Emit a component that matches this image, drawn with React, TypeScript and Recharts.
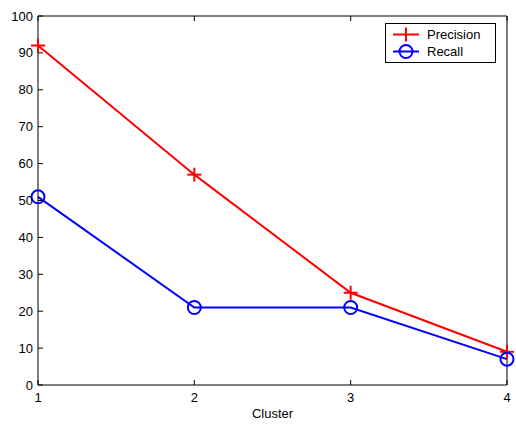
import React from 'react';
import { LineChart, Line, XAxis, YAxis, Legend } from 'recharts';

const clusters = [1, 2, 3, 4];
const precision = [92, 57, 25, 9];
const recall = [51, 21, 21, 7];
const yTicks = [0, 10, 20, 30, 40, 50, 60, 70, 80, 90, 100];

const RED = '#ff0000';
const BLUE = '#0000ff';
const FONT = '"Liberation Sans", Arial, sans-serif';

const data = clusters.map((c, i) => ({ cluster: c, precision: precision[i], recall: recall[i] }));

// MATLAB-style inward ticks
const BottomTick = (props: any) => {
    const { x, y, payload } = props;
    return (
        <g>
            <line x1={x} y1={y} x2={x} y2={y - 5} stroke="#000" />
            <text x={x} y={y + 17} textAnchor="middle" fontSize={13} fontFamily={FONT} fill="#000">
                {payload.value}
            </text>
        </g>
    );
};

const TopTick = (props: any) => {
    const { x, y } = props;
    return <line x1={x} y1={y} x2={x} y2={y + 5} stroke="#000" />;
};

const LeftTick = (props: any) => {
    const { x, y, payload } = props;
    return (
        <g>
            <line x1={x} y1={y} x2={x + 5} y2={y} stroke="#000" />
            <text x={x - 5} y={y + 4.5} textAnchor="end" fontSize={13} fontFamily={FONT} fill="#000">
                {payload.value}
            </text>
        </g>
    );
};

const RightTick = (props: any) => {
    const { x, y } = props;
    return <line x1={x} y1={y} x2={x - 5} y2={y} stroke="#000" />;
};

const PlusDot = (props: any) => {
    const { cx, cy, index } = props;
    return (
        <g key={`p-${index}`}>
            <line x1={cx - 7} y1={cy} x2={cx + 7} y2={cy} stroke={RED} strokeWidth={2} />
            <line x1={cx} y1={cy - 7} x2={cx} y2={cy + 7} stroke={RED} strokeWidth={2} />
        </g>
    );
};

const CircleDot = (props: any) => {
    const { cx, cy, index } = props;
    return <circle key={`r-${index}`} cx={cx} cy={cy} r={6.5} fill="none" stroke={BLUE} strokeWidth={2} />;
};

const LegendBox = () => (
    <svg width={111} height={40} style={{ display: 'block' }}>
        <rect x={0.5} y={0.5} width={110} height={39} fill="#fff" stroke="#000" />
        <line x1={8} y1={11.5} x2={34} y2={11.5} stroke={RED} strokeWidth={2} />
        <line x1={21} y1={4.5} x2={21} y2={18.5} stroke={RED} strokeWidth={2} />
        <text x={42} y={16} fontSize={13} fontFamily={FONT} fill="#000">Precision</text>
        <line x1={8} y1={28.5} x2={34} y2={28.5} stroke={BLUE} strokeWidth={2} />
        <circle cx={21} cy={28.5} r={6.5} fill="none" stroke={BLUE} strokeWidth={2} />
        <text x={42} y={33} fontSize={13} fontFamily={FONT} fill="#000">Recall</text>
    </svg>
);

export default function App() {
    return (
        <div style={{ position: 'absolute', left: 0, top: 0, width: 516, height: 424, background: '#fff' }}>
            <LineChart width={516} height={424} data={data} margin={{ top: 15, right: 8, left: 0, bottom: 0 }}>
                <XAxis
                    dataKey="cluster"
                    type="number"
                    domain={[1, 4]}
                    ticks={clusters}
                    tickSize={0}
                    tickMargin={0}
                    tick={<BottomTick />}
                    height={39}
                    axisLine={{ stroke: '#000' }}
                    label={{ value: 'Cluster', position: 'insideBottom', offset: 6, fontSize: 13, fontFamily: FONT, fill: '#000' }}
                />
                <XAxis
                    xAxisId="top"
                    orientation="top"
                    dataKey="cluster"
                    type="number"
                    domain={[1, 4]}
                    ticks={clusters}
                    tickSize={0}
                    tickMargin={0}
                    tick={<TopTick />}
                    height={1}
                    axisLine={{ stroke: '#000' }}
                />
                <YAxis
                    domain={[0, 100]}
                    ticks={yTicks}
                    tickSize={0}
                    tickMargin={0}
                    tick={<LeftTick />}
                    width={38}
                    axisLine={{ stroke: '#000' }}
                />
                <YAxis
                    yAxisId="right"
                    orientation="right"
                    domain={[0, 100]}
                    ticks={yTicks}
                    tickSize={0}
                    tickMargin={0}
                    tick={<RightTick />}
                    width={1}
                    axisLine={{ stroke: '#000' }}
                />
                <Legend
                    layout="horizontal"
                    verticalAlign="middle"
                    align="center"
                    content={<LegendBox />}
                    wrapperStyle={{ position: 'absolute', left: 385, top: 23, width: 111, height: 40 }}
                />
                <Line
                    type="linear"
                    dataKey="precision"
                    stroke={RED}
                    strokeWidth={2}
                    dot={<PlusDot />}
                    activeDot={false}
                    isAnimationActive={false}
                />
                <Line
                    type="linear"
                    dataKey="recall"
                    stroke={BLUE}
                    strokeWidth={2}
                    dot={<CircleDot />}
                    activeDot={false}
                    isAnimationActive={false}
                />
            </LineChart>
        </div>
    );
}
